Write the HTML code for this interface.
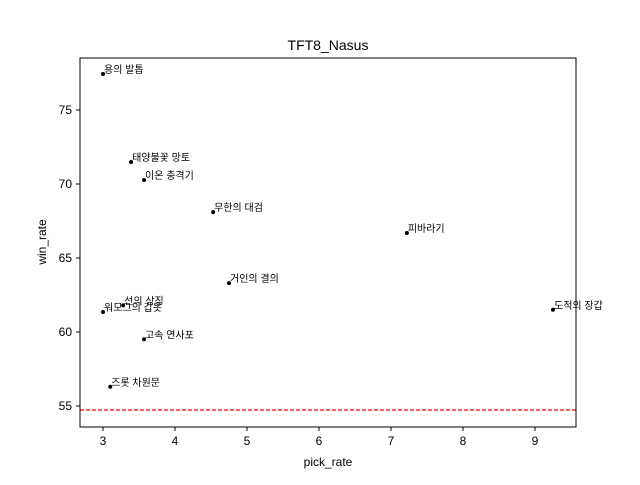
<!DOCTYPE html>
<html><head><meta charset="utf-8"><style>
body{margin:0;background:#fff;}
svg text{font-family:"Liberation Sans","Noto Sans CJK KR",sans-serif;}
</style></head><body>
<svg id="c" width="640" height="480">
<rect x="0" y="0" width="640" height="480" fill="#fff"/>
<text x="328" y="50" font-size="14" text-anchor="middle">TFT8_Nasus</text>
<g id="ax"></g>
<rect x="80" y="58" width="496" height="369" fill="none" stroke="#000" stroke-width="1"/>
<text x="328" y="466" font-size="12" text-anchor="middle">pick_rate</text>
<text x="0" y="0" font-size="12" text-anchor="middle" transform="translate(46,242) rotate(-90)">win_rate</text>
</svg>
<script>
const names=["용의 발톱","태양불꽃 망토","이온 충격기","무한의 대검","피바라기","거인의 결의","도적의 장갑","선의 상징","워모그의 갑옷","고속 연사포","즈롯 차원문"];
const pickRates=[3.0,3.39,3.57,4.53,7.22,4.75,9.25,3.28,3.0,3.57,3.1];
const winRates=[77.43,71.49,70.27,68.1,66.69,63.3,61.5,61.8,61.35,59.5,56.3];
const xTicks=[3,4,5,6,7,8,9];
const yTicks=[55,60,65,70,75];
const baseline=54.73;
const NS="http://www.w3.org/2000/svg";
const g=document.getElementById('ax');
const X=v=>103+(v-3)*72;
const Y=v=>406-(v-55)*14.8;
function mk(t,a){const e=document.createElementNS(NS,t);for(const k in a)e.setAttribute(k,a[k]);g.appendChild(e);return e;}
xTicks.forEach(t=>{
 const l=mk('line',{x1:X(t),x2:X(t),y1:427,y2:431,stroke:'#000'});
 
 
 const tx=mk('text',{x:X(t),y:445,'font-size':12,'text-anchor':'middle'});tx.textContent=t;
 
 
});
yTicks.forEach(t=>{
 const l=mk('line',{x1:76,x2:80,y1:Y(t),y2:Y(t),stroke:'#000'});
 
 
 const tx=mk('text',{x:72,y:Y(t)+4,'font-size':12,'text-anchor':'end'});tx.textContent=t;
 
 
});
const bl=mk('line',{x1:80,x2:576,y1:Y(baseline),y2:Y(baseline),stroke:'#e00','stroke-dasharray':'4,2','stroke-width':1.2});


names.forEach((n,i)=>{
 const c=mk('circle',{cx:X(pickRates[i]),cy:Y(winRates[i]),r:2,fill:'#000'});
 
 
 const t=mk('text',{x:X(pickRates[i])+1,y:Y(winRates[i])-1,'font-size':10});t.textContent=n;
 
 
});
</script>
</body></html>
